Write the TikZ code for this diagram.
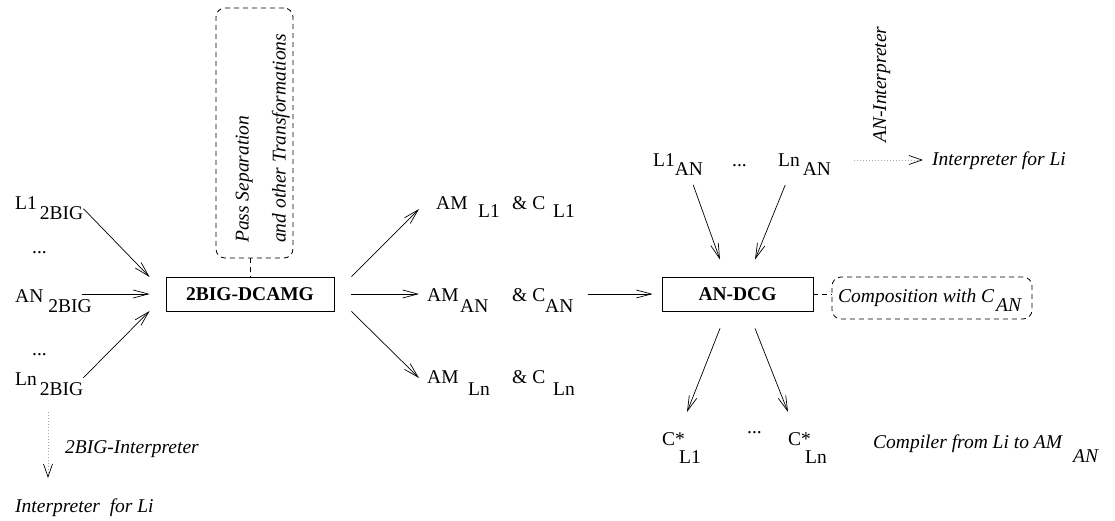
\documentclass[tikz,border=0pt]{standalone}
\usepackage{fontspec}
\setmainfont{Liberation Serif}
\usetikzlibrary{arrows.meta,calc}
\begin{document}
\begin{tikzpicture}[x=1pt,y=-1pt,
  every node/.style={inner sep=0pt, font=\fontsize{19.5}{23}\selectfont},
  lab/.style={anchor=base west},
  ilab/.style={anchor=base west, font=\fontsize{19.5}{23}\selectfont\itshape},
  procbox/.style={draw, line width=0.8pt, minimum height=34pt, font=\fontsize{19.5}{23}\selectfont\bfseries},
  notebox/.style={draw, dash pattern=on 5pt off 4pt, rounded corners=9pt, line width=0.8pt},
  dashlink/.style={draw, dash pattern=on 5pt off 4pt, line width=0.8pt},
  arr/.style={line width=0.7pt, -{Straight Barb[length=15pt,width=8pt,line width=0.7pt]}},
  dotarr/.style={draw=gray!70, line width=0.6pt, dash pattern=on 0.6pt off 2.4pt, -{Straight Barb[length=13pt,width=9pt,color=black,line width=0.7pt]}},
]
\useasboundingbox (0,0) rectangle (1115,521);

% left inputs
\node[lab] (l1big) at (15,210) {L1\kern3pt\raisebox{-10pt}{2BIG}};
\node[lab] (dotsa) at (32,253) {...};
\node[lab] (anbig) at (15,302) {AN\kern5pt\raisebox{-10pt}{2BIG}};
\node[lab] (dotsb) at (32,355) {...};
\node[lab] (lnbig) at (15,385) {Ln\kern3pt\raisebox{-10pt}{2BIG}};

% 2BIG-DCAMG and note
\node[procbox, minimum width=168pt] (dcamg) at (250,294) {2BIG-DCAMG};
\node[notebox, minimum width=77pt, minimum height=250pt] (pass) at (254.5,133) {};
\node[ilab, rotate=90] (passa) at (248.5,243) {Pass Separation};
\node[ilab, rotate=90] (passb) at (285.5,243) {and other Transformations};
\draw[dashlink] (pass.south -| dcamg.north) -- (dcamg.north);

\draw[arr] (l1big.east) -- ($(dcamg.west)+(-16,-17)$);
\draw[arr] ($(dcamg.west)+(-84,0)$) -- ($(dcamg.west)+(-16,0)$);
\draw[arr] ($(lnbig.east)+(0,-6)$) -- ($(dcamg.west)+(-16,17)$);

% outputs of 2BIG-DCAMG
\node[lab] (amone) at (436,210) {\rlap{AM}\hspace{42pt}\rlap{\raisebox{-8pt}{L1}}\hspace{34pt}\rlap{\& C}\hspace{41pt}\raisebox{-8pt}{L1}};
\node[lab] (aman) at (427,301) {\rlap{AM}\hspace{33pt}\rlap{\raisebox{-11pt}{AN}}\hspace{52pt}\rlap{\& C}\hspace{33pt}\raisebox{-11pt}{AN}};
\node[lab] (amln) at (427,383) {\rlap{AM}\hspace{41pt}\rlap{\raisebox{-12pt}{Ln}}\hspace{44pt}\rlap{\& C}\hspace{41pt}\raisebox{-12pt}{Ln}};

\draw[arr] ($(dcamg.north east)+(17,0)$) -- ($(amone.base west)+(-17,-1)$);
\draw[arr] ($(dcamg.east)+(17,0)$) -- ($(aman.base west)+(-8,-7)$);
\draw[arr] ($(dcamg.south east)+(17,0)$) -- ($(amln.base west)+(-8,-5)$);

% AN-DCG
\node[procbox, minimum width=151pt] (andcg) at (737.5,294) {AN-DCG};
\draw[arr] ($(aman.base east)+(14,-7)$) -- ($(andcg.west)+(-9,0)$);

\node[notebox, minimum width=200pt, minimum height=42pt] (comp) at (932,298) {};
\node[ilab] (comptxt) at (838,302) {Composition with C\kern2pt\raisebox{-9pt}{AN}};
\draw[dashlink] (andcg.east) -- (comp.west |- andcg.east);

% top right inputs
\node[lab] (lonean) at (653,167) {L1\raisebox{-9pt}{AN}};
\node[lab] (dotsc) at (732,167) {...};
\node[lab] (lnan) at (778,167) {Ln\kern3pt\raisebox{-9pt}{AN}};
\node[ilab] (interpr) at (932,166) {Interpreter for Li};
\node[ilab, rotate=90] (aninterp) at (886,143) {AN-Interpreter};
\draw[dotarr] ($(lnan.base east)+(23,-7)$) -- ($(interpr.base west)+(-9,-6)$);

\draw[arr] ($(lonean.base east)+(-10,18)$) -- ($(andcg.north)+(-17.5,-17)$);
\draw[arr] ($(lnan.base east)+(-46,18)$) -- ($(andcg.north)+(17.5,-17)$);

% bottom outputs
\node[lab] (cstarone) at (662,445) {\rlap{C*}\hspace{17pt}\raisebox{-18pt}{L1}};
\node[lab] (dotsd) at (747,433) {...};
\node[lab] (cstarln) at (788,445) {\rlap{C*}\hspace{17pt}\raisebox{-18pt}{Ln}};
\node[ilab] (compiler) at (873,448) {\rlap{Compiler from Li to AM}\hspace{200pt}\raisebox{-14pt}{AN}};

\draw[arr] ($(andcg.south)+(-17.5,17)$) -- ($(cstarone.base west)+(25,-33)$);
\draw[arr] ($(andcg.south)+(17.5,17)$) -- ($(cstarln.base west)+(0,-33)$);

% left bottom interpreter
\node[ilab] (bigint) at (65,453) {2BIG-Interpreter};
\node[ilab] (interpl) at (15,512) {Interpreter\ \ for Li};
\draw[dotarr] ($(lnbig.base west)+(33,27)$) -- ($(interpl.base west)+(33,-34)$);
\end{tikzpicture}
\end{document}
